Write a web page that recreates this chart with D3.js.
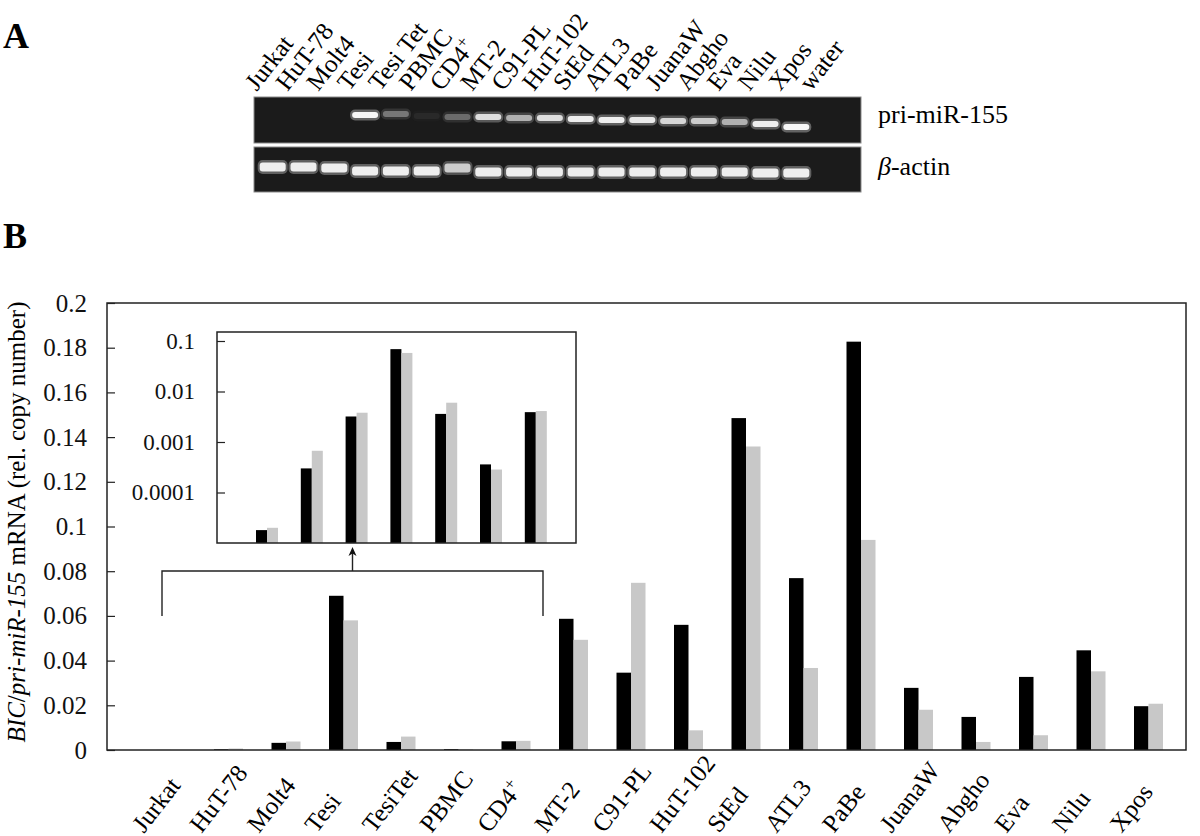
<!DOCTYPE html>
<html>
<head>
<meta charset="utf-8">
<script src="https://cdn.jsdelivr.net/npm/d3@7"></script>
<style>
  html, body { margin: 0; padding: 0; background: #fff; }
  svg { display: block; font-family: "Liberation Serif", "Times New Roman", serif; }
</style>
</head>
<body>
<svg id="fig" width="1200" height="836"></svg>
<script>
/* ============================================================
   DATA
   ============================================================ */

// Panel A — gel lanes, band brightness (0..1) and migration (arbitrary units)
const lanes = ["Jurkat", "HuT-78", "Molt4", "Tesi", "Tesi Tet", "PBMC", "CD4+", "MT-2", "C91-PL",
  "HuT-102", "StEd", "ATL3", "PaBe", "JuanaW", "Abgho", "Eva", "Nilu", "Xpos", "water"];
const priIntensity   = [0, 0, 0, 1.0, 0.35, 0.05, 0.3, 0.85, 0.6, 0.85, 0.95, 0.95, 0.92, 0.8, 0.75, 0.6, 0.95, 1.0, 0];
const priMigration   = [22, 22, 22, 18, 17, 19, 20, 20, 21, 21, 22, 23, 23, 24, 24, 25, 27, 30, 22];
const actinIntensity = [0.95, 0.95, 0.95, 0.95, 0.95, 0.95, 0.75, 0.95, 0.95, 0.95, 0.95, 0.95, 0.95, 0.95, 0.95, 0.95, 0.95, 0.95, 0];
const actinMigration = [20, 20, 21, 24, 24, 24, 21, 25, 25, 25, 25, 25, 25, 25, 25, 25, 26, 26, 25];

// Panel B — relative copy number BIC/pri-miR-155
const categories = ["Jurkat", "HuT-78", "Molt4", "Tesi", "TesiTet", "PBMC", "CD4+", "MT-2", "C91-PL",
  "HuT-102", "StEd", "ATL3", "PaBe", "JuanaW", "Abgho", "Eva", "Nilu", "Xpos"];
const seriesBlack = [0.000018, 0.00030, 0.0032, 0.069, 0.0036, 0.00036, 0.0039, 0.0587, 0.0346,
  0.056, 0.1485, 0.0769, 0.1827, 0.0278, 0.0148, 0.0327, 0.0446, 0.0196];
const seriesGray  = [0.000020, 0.00067, 0.0038, 0.058, 0.0060, 0.000285, 0.0041, 0.0493, 0.0748,
  0.0088, 0.1358, 0.0367, 0.094, 0.018, 0.0036, 0.0066, 0.0352, 0.0207];

const mainTicks  = [0, 0.02, 0.04, 0.06, 0.08, 0.1, 0.12, 0.14, 0.16, 0.18, 0.2];
const insetTicks = [0.0001, 0.001, 0.01, 0.1];
const INSET_N = 7;   // first seven samples are zoomed in the log inset

/* ============================================================
   LAYOUT
   ============================================================ */

const svg = d3.select("#fig");
const defs = svg.append("defs");
const FS = 25;
const ANGLE = 52;   // degrees above horizontal for slanted labels

// slanted labels laid out along a straight guide path starting at (px, py)
function slantLabels(id, data, px, py) {
  const a = ANGLE * Math.PI / 180, L = 160;
  defs.selectAll(`path.${id}`)
    .data(data)
    .join("path")
    .attr("class", id)
    .attr("id", (d, i) => `${id}-${i}`)
    .attr("d", d => `M${px(d)},${py}l${L * Math.cos(a)},${-L * Math.sin(a)}`);
  svg.append("g").selectAll("text")
    .data(data)
    .join("text")
    .attr("font-size", FS)
    .each(function(d, i) {
      const tp = d3.select(this).append("textPath").attr("href", `#${id}-${i}`);
      if (d === "CD4+") {
        tp.append("tspan").text("CD4");
        tp.append("tspan").attr("dy", -9).attr("font-size", 17).text("+");
      } else tp.text(d);
    });
}

/* ---------- Panel A : gel ---------- */

const GEL = { x0: 254, x1: 861, top1: 97, h1: 46, top2: 147, h2: 45 };

svg.append("text").attr("x", 3).attr("y", 48)
  .attr("font-size", 36).attr("font-weight", "bold").text("A");

const laneX = d3.scaleBand().domain(lanes).range([257.3, 842.5]);
const laneC = d => laneX(d) + laneX.bandwidth() / 2;

function drawGel(top, h, intensity, migration, bandH) {
  const g = svg.append("g");
  g.append("rect")
    .attr("x", GEL.x0).attr("y", top)
    .attr("width", GEL.x1 - GEL.x0).attr("height", h)
    .attr("fill", "#1b1b1b").attr("stroke", "#8a8a8a").attr("stroke-width", 1);
  const my = d3.scaleLinear().domain([0, h]).range([top, top + h]);
  const bands = lanes.map((l, i) => ({ l, v: intensity[i], m: migration[i] })).filter(d => d.v > 0);
  // soft halo then bright core
  g.selectAll("rect.halo").data(bands).join("rect")
    .attr("class", "halo")
    .attr("x", d => laneC(d.l) - 15).attr("width", 30)
    .attr("y", d => my(d.m) - bandH / 2 - 2.5).attr("height", bandH + 5)
    .attr("rx", 5)
    .attr("fill", "#bdbdbd").attr("opacity", d => d.v * 0.45);
  g.selectAll("rect.core").data(bands).join("rect")
    .attr("class", "core")
    .attr("x", d => laneC(d.l) - 13).attr("width", 26)
    .attr("y", d => my(d.m) - bandH / 2).attr("height", bandH)
    .attr("rx", 3)
    .attr("fill", "#f6f6f6").attr("opacity", d => d.v);
}
drawGel(GEL.top1, GEL.h1, priIntensity, priMigration, 6);
drawGel(GEL.top2, GEL.h2, actinIntensity, actinMigration, 9);

slantLabels("lane", lanes, d => laneC(d) - 16, 92);

svg.append("text").attr("x", 878).attr("y", 123).attr("font-size", 26).text("pri-miR-155");
const act = svg.append("text").attr("x", 878).attr("y", 175).attr("font-size", 26);
act.append("tspan").attr("font-style", "italic").text("β");
act.append("tspan").text("-actin");

/* ---------- Panel B : bar chart ---------- */

svg.append("text").attr("x", 3).attr("y", 248)
  .attr("font-size", 36).attr("font-weight", "bold").text("B");

const FR = { left: 107, right: 1186, top: 303, bottom: 750 };

const x = d3.scaleBand().domain(categories).range([142.25, 1177.25]);
const y = d3.scaleLinear().domain([0, 0.2]).range([FR.bottom, FR.top]);
const cx = c => x(c) + x.bandwidth() / 2;
const BW = 14.5;

const bars = categories.map((c, i) => ({ c, b: seriesBlack[i], g: seriesGray[i] }));

const main = svg.append("g");
main.selectAll("rect.blk").data(bars).join("rect")
  .attr("x", d => cx(d.c) - BW).attr("width", BW)
  .attr("y", d => y(d.b)).attr("height", d => FR.bottom - y(d.b))
  .attr("fill", "#000");
main.selectAll("rect.gry").data(bars).join("rect")
  .attr("x", d => cx(d.c)).attr("width", BW)
  .attr("y", d => y(d.g)).attr("height", d => FR.bottom - y(d.g))
  .attr("fill", "#c8c8c8");

// frame
main.append("rect")
  .attr("x", FR.left).attr("y", FR.top)
  .attr("width", FR.right - FR.left).attr("height", FR.bottom - FR.top)
  .attr("fill", "none").attr("stroke", "#222").attr("stroke-width", 1.5);

// y axis: inward ticks, labels outside
const yAxis = d3.axisLeft(y).tickValues(mainTicks).tickSize(-8).tickPadding(20)
  .tickFormat(d => d === 0 ? "0" : String(+d.toFixed(2)));
const ya = svg.append("g").attr("transform", `translate(${FR.left},0)`).call(yAxis);
ya.select(".domain").remove();
ya.selectAll("line").attr("stroke", "#222").attr("stroke-width", 1.2);
ya.selectAll("text").attr("font-family", "Liberation Serif").attr("font-size", FS).attr("fill", "#111");

// y title
const yt = svg.append("text")
  .attr("transform", "translate(25,522) rotate(-90)")
  .attr("text-anchor", "middle").attr("font-size", FS);
yt.append("tspan").attr("font-style", "italic").text("BIC");
yt.append("tspan").text("/");
yt.append("tspan").attr("font-style", "italic").text("pri-miR-155");
yt.append("tspan").text(" mRNA (rel. copy number)");

// category labels
slantLabels("cat", categories, d => cx(d) - 27, 834);

/* ---------- Inset (log scale) ---------- */

const IN = { left: 217, right: 576, top: 332, bottom: 543 };
const xi = d3.scaleBand().domain(categories.slice(0, INSET_N)).range([244.6, 558.2]);
const yi = d3.scaleLog().domain([1e-5, 0.1]).range([IN.bottom, 341]);
const cxi = c => xi(c) + xi.bandwidth() / 2;
const IBW = 11;

const inset = svg.append("g");
inset.append("rect")
  .attr("x", IN.left).attr("y", IN.top)
  .attr("width", IN.right - IN.left).attr("height", IN.bottom - IN.top)
  .attr("fill", "#fff");
inset.selectAll("rect.blk").data(bars.slice(0, INSET_N)).join("rect")
  .attr("x", d => cxi(d.c) - IBW).attr("width", IBW)
  .attr("y", d => yi(d.b)).attr("height", d => IN.bottom - yi(d.b))
  .attr("fill", "#000");
inset.selectAll("rect.gry").data(bars.slice(0, INSET_N)).join("rect")
  .attr("x", d => cxi(d.c)).attr("width", IBW)
  .attr("y", d => yi(d.g)).attr("height", d => IN.bottom - yi(d.g))
  .attr("fill", "#c8c8c8");
inset.append("rect")
  .attr("x", IN.left).attr("y", IN.top)
  .attr("width", IN.right - IN.left).attr("height", IN.bottom - IN.top)
  .attr("fill", "none").attr("stroke", "#222").attr("stroke-width", 1.5);

const yiAxis = d3.axisLeft(yi).tickValues(insetTicks).tickSize(-8).tickPadding(22)
  .tickFormat(d => String(d));
const yia = svg.append("g").attr("transform", `translate(${IN.left},0)`).call(yiAxis);
yia.select(".domain").remove();
yia.selectAll("line").attr("stroke", "#222").attr("stroke-width", 1.2);
yia.selectAll("text").attr("font-family", "Liberation Serif").attr("font-size", 23).attr("fill", "#111");

// bracket + arrow linking Jurkat..CD4+ to the inset
const BR = { x0: 162, x1: 543, y: 571, foot: 616 };
const br = svg.append("g").attr("stroke", "#222").attr("stroke-width", 1.4).attr("fill", "none");
br.append("path").attr("d", `M${BR.x0},${BR.foot}V${BR.y}H${BR.x1}V${BR.foot}`);
const ax = (BR.x0 + BR.x1) / 2;
br.append("line").attr("x1", ax).attr("x2", ax).attr("y1", BR.y).attr("y2", 552);
svg.append("path")
  .attr("d", `M${ax},${IN.bottom + 4}l-4,9l4,-2.5l4,2.5z`)
  .attr("fill", "#111");
</script>
</body>
</html>
